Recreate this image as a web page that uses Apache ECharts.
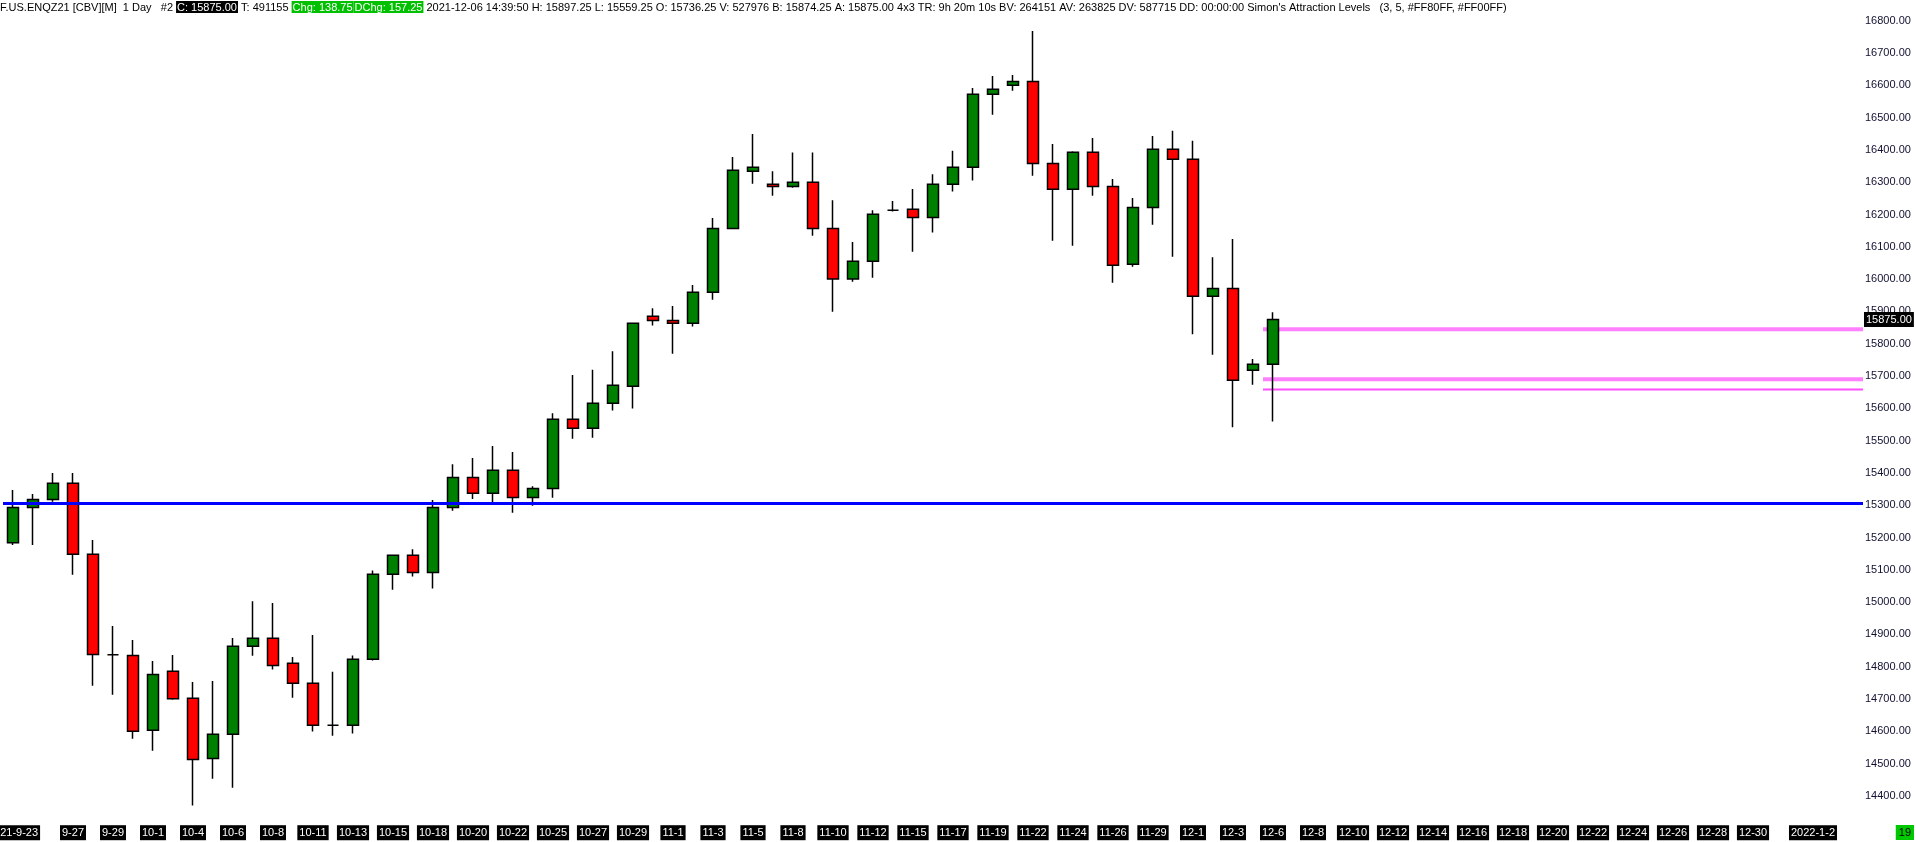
<!DOCTYPE html>
<html>
<head>
<meta charset="utf-8">
<script src="https://cdn.jsdelivr.net/npm/echarts@6/dist/echarts.min.js"></script>
<style>
html,body{margin:0;padding:0;background:#fff;}
#chart{width:1916px;height:842px;}
</style>
</head>
<body>
<div id="chart"></div>
<script>
// ---- data ----
const categories = ['9-23','9-24','9-26','9-27','9-28','9-29','9-30',
 '10-1','10-3','10-4','10-5','10-6','10-7','10-8','10-10','10-11','10-12','10-13','10-14','10-15','10-17','10-18','10-19','10-20','10-21','10-22','10-24','10-25','10-26','10-27','10-28','10-29','10-31',
 '11-1','11-2','11-3','11-4','11-5','11-7','11-8','11-9','11-10','11-11','11-12','11-14','11-15','11-16','11-17','11-18','11-19','11-21','11-22','11-23','11-24','11-25','11-26','11-28','11-29','11-30',
 '12-1','12-2','12-3','12-5','12-6',
 '12-7','12-8','12-9','12-10','12-11','12-12','12-13','12-14','12-15','12-16','12-17','12-18','12-19','12-20','12-21','12-22','12-23','12-24','12-25','12-26','12-27','12-28','12-29','12-30','12-31','1-1','1-2','1-3','1-4'];

const opens  = [15184,15293,15318,15368,15148,14837,14835,14603,14786,14702,14516,14591,14863,14888,14811,14749,14619,14619,14823,15086,15145,15092,15293,15386,15337,15408,15324,15352,15566,15538,15616,15668,15885,15872,15863,15959,16157,16334,16294,16287,16300,16157,16000,16055,16213,16216,16191,16294,16346,16572,16600,16612,16358,16278,16393,16287,16046,16222,16402,16371,15947,15971,15718,15736.25];
const closes = [15293,15318,15368,15148,14838,14837,14600,14776,14701,14513,14591,14863,14888,14804,14749,14619,14619,14823,15086,15145,15092,15293,15386,15337,15408,15324,15352,15566,15538,15616,15671,15863,15872,15863,15959,16157,16337,16346,16287,16300,16157,16000,16055,16201,16213,16191,16294,16346,16572,16588,16612,16358,16278,16393,16287,16043,16222,16402,16371,15947,15971,15687,15736,15875];
const lows   = [15177,15177,15311,15085,14741,14713,14577,14540,14698,14370,14453,14425,14834,14791,14704,14599,14586,14593,14819,15038,15079,15042,15283,15319,15310,15277,15298,15323,15506,15509,15593,15599,15856,15769,15853,15936,16157,16295,16258,16283,16134,15899,15992,16004,16209,16085,16144,16271,16305,16509,16583,16320,16119,16103,16258,15989,16038,16168,16069,15829,15766,15541,15673,15559.25];
const highs  = [15347,15335,15400,15400,15192,14926,14883,14818,14836,14753,14756,14889,15003,14997,14830,14898,14784,14835,15098,15147,15164,15316,15427,15446,15483,15465,15359,15585,15703,15719,15777,15866,15910,15917,15982,16189,16378,16449,16334,16392,16392,16244,16115,16213,16242,16279,16325,16397,16592,16629,16632,16768,16418,16396,16437,16310,16251,16443,16459,16428,16068,16124,15753,15897.25];

const tickLabelCats = ['9-23','9-27','9-29','10-1','10-4','10-6','10-8','10-11','10-13','10-15','10-18','10-20','10-22','10-25','10-27','10-29','11-1','11-3','11-5','11-8','11-10','11-12','11-15','11-17','11-19','11-22','11-24','11-26','11-29','12-1','12-3','12-6','12-8','12-10','12-12','12-14','12-16','12-18','12-20','12-22','12-24','12-26','12-28','12-30','1-2'];
const yearPrefixed = {'9-23':'2021-9-23','1-2':'2022-1-2'};

const horizontalLevel = 15305;          // blue line
const attractionLevels = [15845, 15690, 15658];
const attractionStartCat = '12-6';
const lastPrice = 15875;

const headerText = {
  prefix: 'F.US.ENQZ21 [CBV][M]  1 Day   #2 ',
  close: 'C: 15875.00',
  trades: ' T: 491155 ',
  chg: 'Chg: 138.75',
  dchg: 'DChg: 157.25',
  rest: " 2021-12-06 14:39:50 H: 15897.25 L: 15559.25 O: 15736.25 V: 527976 B: 15874.25 A: 15875.00 4x3 TR: 9h 20m 10s BV: 264151 AV: 263825 DV: 587715 DD: 00:00:00 Simon's Attraction Levels   (3, 5, #FF80FF, #FF00FF)"
};

// ---- styles ----
const FONT = "'Liberation Sans', Arial, sans-serif";
const levelStyles = [
  {color:'#FF80FF', width:4},
  {color:'#FF80FF', width:4},
  {color:'#FF4DFF', width:2}
];

const candleData = opens.map((o,i)=>[o, closes[i], lows[i], highs[i]]);
const startIdx = categories.indexOf(attractionStartCat);

const chart = echarts.init(document.getElementById('chart'), null, {renderer:'canvas'});
chart.setOption({
  backgroundColor:'#ffffff',
  animation:false,
  grid:{left:3, right:53, top:4.55, bottom:13.8, containLabel:false, outerBoundsMode:'none'},
  xAxis:{
    type:'category', data:categories, boundaryGap:true,
    axisLine:{show:false}, axisTick:{show:false}, splitLine:{show:false},
    axisLabel:{
      interval:(i, v)=> tickLabelCats.indexOf(v) >= 0,
      formatter:(v)=> yearPrefixed[v] || v,
      color:'#ffffff', backgroundColor:'#000000',
      fontFamily:FONT, fontSize:11, lineHeight:13, padding:[1,2,1,2],
      margin:-3, hideOverlap:false
    }
  },
  yAxis:{
    type:'value', position:'right', min:14300, max:16850, interval:100, scale:true,
    axisLine:{show:false}, axisTick:{show:false}, splitLine:{show:false},
    axisLabel:{
      formatter:(v)=> (v>=14400 && v<=16800) ? v.toFixed(2) : '',
      color:'#101030', fontFamily:FONT, fontSize:11, align:'left', margin:2,
      showMinLabel:true, showMaxLabel:true
    }
  },
  series:[
    {
      type:'candlestick', data:candleData, barWidth:11,
      itemStyle:{color:'#008000', color0:'#ff0000', borderColor:'#000', borderColor0:'#000', borderColorDoji:'#000', borderWidth:1.5},
      markLine:{
        silent:true, symbol:['none','none'], animation:false,
        data:[
          {yAxis:horizontalLevel, lineStyle:{color:'#0000ff', width:3, type:'solid'}, label:{show:false}},
          {yAxis:lastPrice, lineStyle:{color:'rgba(0,0,0,0)', width:1, type:'solid'}, label:{show:true, position:'end', distance:1,
            formatter:()=> lastPrice.toFixed(2), color:'#fff', backgroundColor:'#000',
            fontFamily:FONT, fontSize:11, lineHeight:13, padding:[1,2,1,2]}}
        ]
      },
      z:3
    },
    {
      type:'custom', coordinateSystem:'cartesian2d',
      data: attractionLevels.map(v=>[startIdx, v]),
      encode:{x:0, y:1},
      renderItem:(params, api)=>{
        const p = api.coord([api.value(0), api.value(1)]);
        const half = api.size([1,0])[0]/2;
        const right = params.coordSys.x + params.coordSys.width;
        const st = levelStyles[params.dataIndex];
        return {type:'line', shape:{x1:p[0]-half, y1:p[1], x2:right, y2:p[1]},
          style:{stroke:st.color, lineWidth:st.width}};
      },
      z:2
    }
  ],
  graphic:[
    {
      type:'text', left:0, top:1, z:10,
      style:{
        text:'{n|'+headerText.prefix+'}{b|'+headerText.close+'}{n|'+headerText.trades+'}{g|'+headerText.chg+'}{g|'+headerText.dchg+'}{n|'+headerText.rest+'}',
        rich:{
          n:{fontFamily:FONT, fontSize:11, fill:'#000', lineHeight:14, padding:[1,0,0,0]},
          b:{fontFamily:FONT, fontSize:11, fill:'#fff', backgroundColor:'#000', lineHeight:14, padding:[1,1,0,1]},
          g:{fontFamily:FONT, fontSize:11, fill:'#fff', backgroundColor:'#00c000', lineHeight:14, padding:[1,1,0,1]}
        }
      }
    },
    {
      type:'text', right:2, top:825, z:10,
      style:{text:'19', fontFamily:FONT, fontSize:11, fill:'#000', backgroundColor:'#00c800', padding:[1,3,1,3], lineHeight:13}
    }
  ]
});
</script>
</body>
</html>
